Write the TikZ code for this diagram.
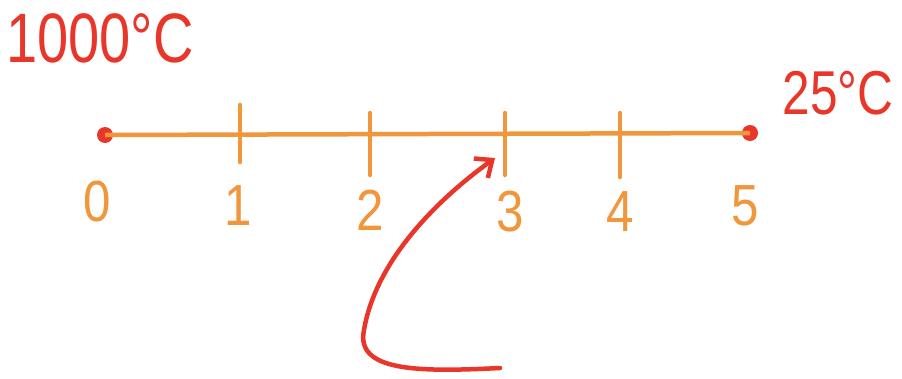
\documentclass[tikz,border=0pt]{standalone}
\usepackage{fontspec}
\setmainfont{Liberation Sans}
\usetikzlibrary{arrows.meta}
\definecolor{lineorange}{RGB}{240,150,60}
\definecolor{markred}{RGB}{232,54,42}
\begin{document}
\begin{tikzpicture}[x=1pt,y=-1pt,
  axis/.style={draw=lineorange,line width=4.5pt},
  tickmark/.style={draw=lineorange,line width=4.5pt,line cap=round},
  numlabel/.style={text=lineorange,font=\fontsize{58}{62}\selectfont,inner sep=0pt,xscale=0.85},
  templabel/.style={text=markred,inner sep=0pt},
  enddot/.style={circle,fill=markred,minimum size=16pt,inner sep=0pt},
  bigarrow/.style={draw=markred,line width=4.5pt,line cap=round,-{Straight Barb[length=14pt,width=24pt,line width=4.5pt]}}]
\useasboundingbox (0,0) rectangle (902,378);
% end points
\node[enddot] (p0) at (105,135) {};
\node[enddot] (p5) at (750,133) {};
\draw[axis] (p0.center) -- (p5.center);
% ticks
\foreach \n/\x/\ya/\yb in {1/240/105/162, 2/370/113/175, 3/505/113/175, 4/620/113/177}{
  \coordinate (t\n a) at (\x,\ya);
  \coordinate (t\n b) at (\x,\yb);
  \draw[tickmark] (t\n a) -- (t\n b);
}
% numbers
\node[numlabel] (n0) at (97,202) {0};
\node[numlabel] (n1) at (238,206) {1};
\node[numlabel] (n2) at (370,210) {2};
\node[numlabel] (n3) at (510,212) {3};
\node[numlabel] (n4) at (620,212) {4};
\node[numlabel] (n5) at (745,206) {5};
% temperatures
\node[templabel,font=\fontsize{70}{74}\selectfont,xscale=0.8] (hot) at (100,38) {1000°C};
\node[templabel,font=\fontsize{62}{66}\selectfont,xscale=0.8] (cold) at (838,93) {25°C};
% curved arrow
\coordinate (as) at (500,368);
\coordinate (ae) at (495,158);
\draw[bigarrow] (as) .. controls (420,372) and (355,372) .. (364,330)
  .. controls (375,265) and (430,205) .. (ae);
\end{tikzpicture}
\end{document}
